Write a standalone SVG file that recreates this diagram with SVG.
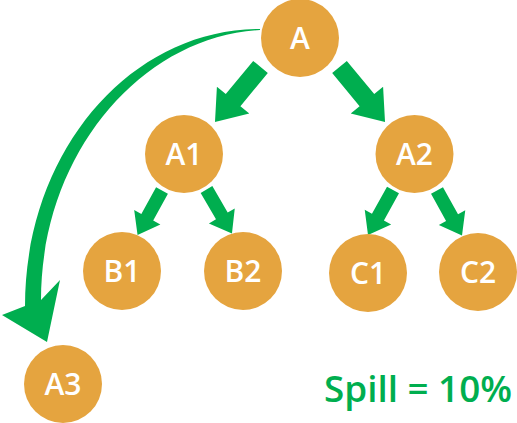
<svg xmlns="http://www.w3.org/2000/svg" xmlns:xlink="http://www.w3.org/1999/xlink" width="517" height="423" viewBox="0 0 517 423">
<style>
.node circle{fill:#E5A43F}
.node text{fill:#fff;font-family:"Open Sans","Liberation Sans",sans-serif;font-weight:600;font-size:30px;text-anchor:middle}
.arr{fill:#00AE4F}
.spill{fill:#00AE4F;font-family:"Open Sans","Liberation Sans",sans-serif;font-weight:600;font-size:36px}
</style>
<defs>
<path id="arrow" d="M0,-9.5 H43 V-21 L71.4,0 L43,21 V9.5 H0 Z"/>
</defs>
<g id="connectors">
<use xlink:href="#arrow" class="arr" transform="translate(260.5,67) rotate(129.6)"/>
<use xlink:href="#arrow" class="arr" transform="translate(339.5,67) rotate(50.4)"/>
<use xlink:href="#arrow" class="arr" transform="translate(162,190.5) rotate(118.8) scale(0.711)"/>
<use xlink:href="#arrow" class="arr" transform="translate(206.5,189.5) rotate(59.9) scale(0.711)"/>
<use xlink:href="#arrow" class="arr" transform="translate(393,190) rotate(119.1) scale(0.72)"/>
<use xlink:href="#arrow" class="arr" transform="translate(437,190.5) rotate(60.9) scale(0.72)"/>
<path class="arr" d="M260,29 C129,29 25,153 25,306 L2,315 L47,342 L60,280 L41,300 C41,156 139,37 260,30 Z"/>
</g>
<g id="node-A" class="node"><circle cx="300" cy="38" r="39"/><text x="300" y="49">A</text></g>
<g id="node-A1" class="node"><circle cx="184" cy="154" r="39"/><text x="184" y="165">A1</text></g>
<g id="node-A2" class="node"><circle cx="414.5" cy="154" r="39"/><text x="414.5" y="165">A2</text></g>
<g id="node-B1" class="node"><circle cx="122" cy="271" r="39"/><text x="122" y="282">B1</text></g>
<g id="node-B2" class="node"><circle cx="243" cy="271" r="39"/><text x="243" y="282">B2</text></g>
<g id="node-C1" class="node"><circle cx="368" cy="273" r="39"/><text x="368" y="284">C1</text></g>
<g id="node-C2" class="node"><circle cx="478" cy="272" r="39"/><text x="478" y="283">C2</text></g>
<g id="node-A3" class="node"><circle cx="63" cy="384" r="39"/><text x="63" y="395">A3</text></g>
<text class="spill" x="324" y="402" textLength="188" lengthAdjust="spacingAndGlyphs">Spill = 10%</text>
</svg>
